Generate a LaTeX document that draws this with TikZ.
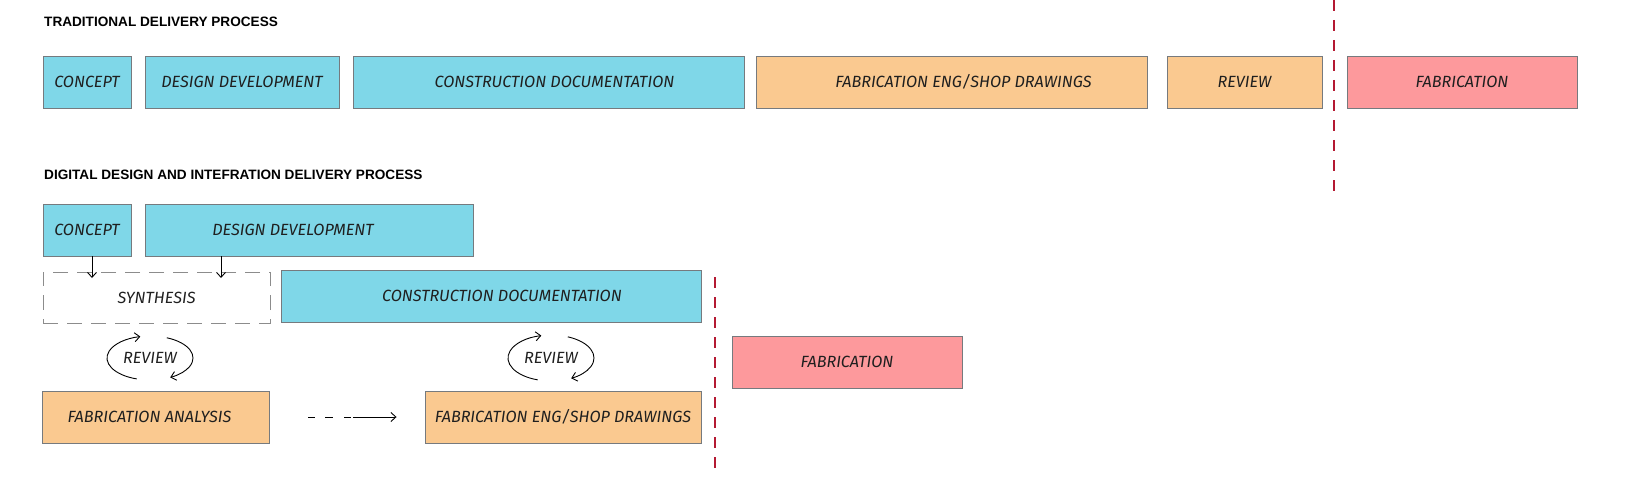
\documentclass[tikz,border=0pt]{standalone}
\usepackage{fontspec}
\setmainfont{Liberation Sans}
\newfontfamily\handfont{Fira Sans}
\usetikzlibrary{arrows.meta}
\definecolor{bluebox}{RGB}{127,215,232}
\definecolor{orangebox}{RGB}{250,201,144}
\definecolor{redbox}{RGB}{253,153,156}
\definecolor{boxline}{RGB}{118,122,126}
\definecolor{cutline}{RGB}{180,25,50}
\begin{document}
\begin{tikzpicture}[x=1pt,y=-1pt,
  box/.style={rectangle, draw=boxline, line width=0.9pt, inner sep=0pt,
    minimum height=52pt, text=black!88,
    font=\handfont\itshape\fontsize{16.2}{19}\selectfont},
  blue/.style={box, fill=bluebox},
  orange/.style={box, fill=orangebox},
  red/.style={box, fill=redbox},
  ttl/.style={anchor=base west, inner sep=0pt, text=black,
    font=\bfseries\fontsize{13.6}{16}\selectfont},
  arr/.style={line width=0.9pt, -{Straight Barb[length=5pt,width=9pt]}},
  cut/.style={draw=cutline, line width=1.2pt, dash pattern=on 11pt off 9pt},
  revtext/.style={inner sep=0pt, text=black!88,
    font=\handfont\itshape\fontsize{16.2}{19}\selectfont}
]
\useasboundingbox (0,0) rectangle (1646,484);

% ---------- titles ----------
\node[ttl] (t1) at (44,27) {TRADITIONAL DELIVERY PROCESS};
\node[ttl] (t2) at (44,179) {DIGITAL DESIGN AND INTEFRATION DELIVERY PROCESS};

% ---------- traditional row ----------
\node[blue, minimum width=88pt]  (cT)  at (87,82)     {CONCEPT};
\node[blue, minimum width=194pt] (ddT) at (242,82)    {DESIGN DEVELOPMENT};
\node[blue, minimum width=391pt] (cdT) at (548.5,82)  {\hspace*{12pt}CONSTRUCTION DOCUMENTATION};
\node[orange, minimum width=391pt] (feT) at (951.5,82) {\hspace*{24pt}FABRICATION ENG/SHOP DRAWINGS};
\node[orange, minimum width=155pt] (rvT) at (1244.5,82) {REVIEW};
\node[red, minimum width=230pt]  (fbT) at (1462,82)   {FABRICATION};

\coordinate (cutA1) at (1334,0);
\coordinate (cutA2) at (1334,198);
\draw[cut] (cutA1) -- (cutA2);

% ---------- digital row ----------
\node[blue, minimum width=88pt]  (cB)  at (87,230)  {CONCEPT};
\node[blue, minimum width=328pt] (ddB) at (309,230) {\hspace*{-32pt}DESIGN DEVELOPMENT};
\node[box, draw=black!45, line width=0.8pt, dash pattern=on 15pt off 9pt,
      minimum width=227pt, minimum height=51pt] (syn) at (156.5,297.5) {SYNTHESIS};
\node[blue, minimum width=420pt] (cdB) at (491,296) {\hspace*{22pt}CONSTRUCTION DOCUMENTATION};
\node[orange, minimum width=227pt] (faB) at (155.5,417) {\hspace*{-12pt}FABRICATION ANALYSIS};
\node[orange, minimum width=276pt] (feB) at (563,417) {FABRICATION ENG/SHOP DRAWINGS};
\node[red, minimum width=230pt] (fbB) at (847,362) {FABRICATION};

\coordinate (cutB1) at (715,277);
\coordinate (cutB2) at (715,475);
\draw[cut] (cutB1) -- (cutB2);

% arrows into synthesis
\coordinate (s1) at (92,278);
\coordinate (s2) at (221,278);
\draw[arr] (cB.south -| s1) -- (s1);
\draw[arr] (ddB.south -| s2) -- (s2);

% review loops
\node[revtext] (rv1) at (150,358) {REVIEW};
\draw[arr] ([shift={(-252:43 and 22)}]rv1.center) arc[start angle=-252, end angle=-103, x radius=43, y radius=22];
\draw[arr] ([shift={(-67:43 and 22)}]rv1.center) arc[start angle=-67, end angle=62, x radius=43, y radius=22];

\node[revtext] (rv2) at (551,358) {REVIEW};
\draw[arr] ([shift={(-252:43 and 23)}]rv2.center) arc[start angle=-252, end angle=-103, x radius=43, y radius=23];
\draw[arr] ([shift={(-67:43 and 23)}]rv2.center) arc[start angle=-67, end angle=62, x radius=43, y radius=23];

% dashed-then-solid arrow
\draw[arr, dash pattern=on 7pt off 10pt on 8pt off 11pt on 7pt off 2pt on 300pt,
      shorten <=39pt, shorten >=28pt] (faB.east) -- (feB.west);
\end{tikzpicture}
\end{document}
